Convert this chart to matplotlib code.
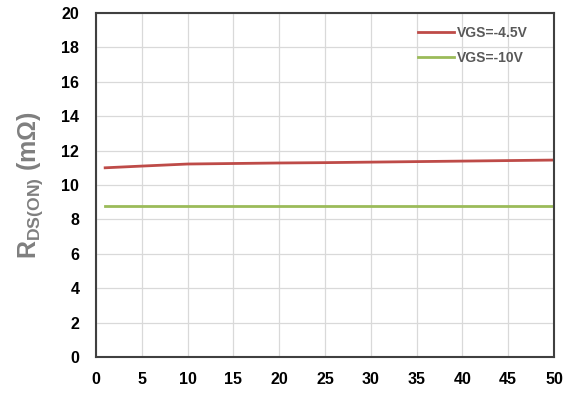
import numpy as np
from matplotlib import pyplot as plt
import matplotlib

matplotlib.rc('font', family=['Liberation Sans', 'DejaVu Sans'], weight='bold')
matplotlib.rc('mathtext', fontset='custom', rm='Liberation Sans:bold')

# data
vgs_labels = ["VGS=-4.5V", "VGS=-10V"]
current = [1, 5, 10, 15, 20, 25, 30, 35, 40, 45, 50]
rds_45 = [11.0, 11.1, 11.22, 11.25, 11.28, 11.3, 11.33, 11.36, 11.39, 11.42, 11.45]
rds_10 = [8.8, 8.8, 8.8, 8.8, 8.8, 8.8, 8.8, 8.8, 8.8, 8.8, 8.8]
colors = ['#BE4B48', '#9BBB59']

fig = plt.figure(figsize=(5.71, 3.94), dpi=100)
ax = fig.add_axes([96 / 571, 1 - 357 / 394, (554 - 96) / 571, (357 - 13) / 394])

for series, label, c in zip([rds_45, rds_10], vgs_labels, colors):
    ax.plot(current, series, color=c, lw=2, label=label)

ax.set_xlim(0, 50)
ax.set_ylim(0, 20)
ax.set_xticks(np.arange(0, 51, 5))
ax.set_yticks(np.arange(0, 21, 2))
ax.grid(True, color='#D9D9D9', lw=0.9)
ax.set_axisbelow(True)
ax.tick_params(axis='x', length=0, labelsize=11.5, pad=11, colors='black')
ax.tick_params(axis='y', length=0, labelsize=11.5, pad=12, colors='black')
for s in ax.spines.values():
    s.set_color('#404040')
    s.set_linewidth(1.5)

ax.set_ylabel(r'R$_{\mathrm{DS(ON)}}$ (m$\mathrm{\Omega}$)', fontsize=18,
              fontweight='bold', color='#7F7F7F', labelpad=12)

leg = ax.legend(loc='upper right', bbox_to_anchor=(0.943, 0.962), frameon=False,
                fontsize=10, handlelength=2.6, handletextpad=0.2,
                borderaxespad=0, borderpad=0, labelspacing=0.8)
for t in leg.get_texts():
    t.set_color('#595959')

fig.savefig('out.png', dpi=100)
plt.close(fig)
